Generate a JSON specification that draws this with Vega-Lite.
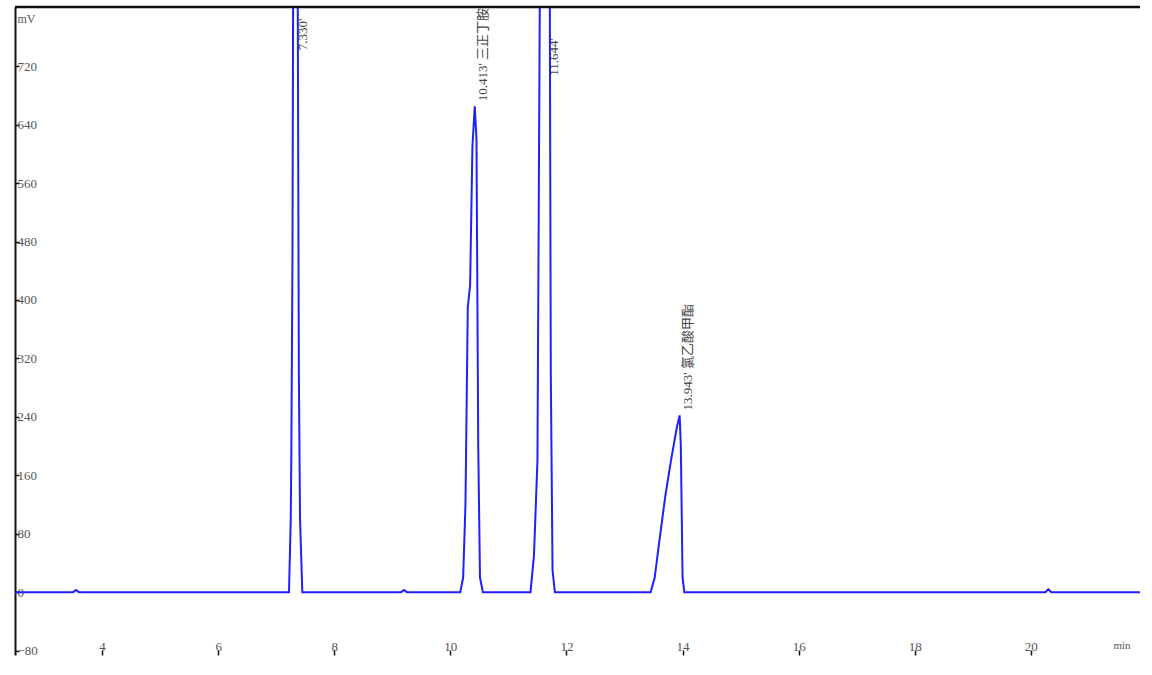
{
  "$schema": "https://vega.github.io/schema/vega-lite/v6.json",
  "autosize": {"type": "none"},
  "padding": {"left": 15, "top": 7, "right": 12, "bottom": 13},
  "width": 1125,
  "height": 648,
  "background": "white",
  "config": {
    "view": {"stroke": null},
    "axis": {"grid": false, "labelFont": "Liberation Serif", "titleFont": "Liberation Serif", "labelColor": "#555", "titleColor": "#555", "labelFontSize": 13, "titleFontSize": 13, "titleFontWeight": "normal", "tickColor": "#111"}
  },
  "datasets": {
    "trace": [
      {"t": 2.5, "mv": 0}, {"t": 3.5, "mv": 0}, {"t": 3.55, "mv": 3}, {"t": 3.6, "mv": 0},
      {"t": 7.22, "mv": 0}, {"t": 7.25, "mv": 100}, {"t": 7.26, "mv": 185}, {"t": 7.28, "mv": 460}, {"t": 7.3, "mv": 1100}, {"t": 7.33, "mv": 1600}, {"t": 7.36, "mv": 1100}, {"t": 7.39, "mv": 300}, {"t": 7.41, "mv": 100}, {"t": 7.45, "mv": 0},
      {"t": 9.15, "mv": 0}, {"t": 9.2, "mv": 3}, {"t": 9.25, "mv": 0},
      {"t": 10.17, "mv": 0}, {"t": 10.22, "mv": 20}, {"t": 10.26, "mv": 120}, {"t": 10.3, "mv": 390}, {"t": 10.34, "mv": 420}, {"t": 10.38, "mv": 610}, {"t": 10.42, "mv": 665}, {"t": 10.45, "mv": 620}, {"t": 10.48, "mv": 200}, {"t": 10.51, "mv": 20}, {"t": 10.56, "mv": 0},
      {"t": 11.38, "mv": 0}, {"t": 11.44, "mv": 50}, {"t": 11.5, "mv": 180}, {"t": 11.54, "mv": 800}, {"t": 11.6, "mv": 1500}, {"t": 11.65, "mv": 1800}, {"t": 11.7, "mv": 1200}, {"t": 11.73, "mv": 300}, {"t": 11.76, "mv": 30}, {"t": 11.8, "mv": 0},
      {"t": 13.45, "mv": 0}, {"t": 13.52, "mv": 20}, {"t": 13.6, "mv": 70}, {"t": 13.7, "mv": 130}, {"t": 13.8, "mv": 180}, {"t": 13.9, "mv": 225}, {"t": 13.95, "mv": 242}, {"t": 13.97, "mv": 200}, {"t": 14.0, "mv": 20}, {"t": 14.03, "mv": 0},
      {"t": 20.25, "mv": 0}, {"t": 20.3, "mv": 4}, {"t": 20.35, "mv": 0}, {"t": 21.88, "mv": 0}
    ],
    "peaks": [
      {"rt": 7.33, "height": 735, "label": "7.330'"},
      {"rt": 10.42, "height": 665, "label": "10.413'  三正丁胺"},
      {"rt": 11.65, "height": 700, "label": "11.644'"},
      {"rt": 13.95, "height": 242, "label": "13.943'  氯乙酸甲酯"}
    ],
    "frame": [{"t0": 2.5, "t1": 21.88, "top": 801}]
  },
  "layer": [
    {
      "data": {"name": "trace"},
      "mark": {"type": "line", "color": "#1f1fff", "strokeWidth": 2, "clip": true},
      "encoding": {
        "x": {"field": "t", "type": "quantitative", "scale": {"domain": [2.5, 21.88], "nice": false, "zero": false},
          "axis": {"orient": "bottom", "values": [4, 6, 8, 10, 12, 14, 16, 18, 20], "format": "d", "domain": false, "tickSize": -5, "tickWidth": 1.5, "labelPadding": -4, "labelBaseline": "middle", "title": "min", "titleAnchor": "start", "titleAlign": "left", "titleBaseline": "middle", "titleX": 1098, "titleY": -10, "titleFontSize": 11}},
        "y": {"field": "mv", "type": "quantitative", "scale": {"domain": [-86, 801], "nice": false, "zero": false},
          "axis": {"orient": "left", "values": [-80, 0, 80, 160, 240, 320, 400, 480, 560, 640, 720], "domainColor": "#111", "domainWidth": 2, "tickSize": -4, "tickWidth": 1.5, "labelAlign": "left", "labelBaseline": "middle", "labelPadding": 2, "title": "mV", "titleAngle": 0, "titleAlign": "left", "titleBaseline": "middle", "titleX": 2, "titleY": 11, "titleFontSize": 12}}
      }
    },
    {
      "data": {"name": "peaks"},
      "mark": {"type": "text", "angle": 270, "align": "left", "baseline": "middle", "dx": 5, "dy": 8, "font": "Liberation Serif, Noto Sans CJK SC", "fontSize": 13, "color": "#444", "clip": true},
      "encoding": {
        "x": {"field": "rt", "type": "quantitative"},
        "y": {"field": "height", "type": "quantitative"},
        "text": {"field": "label"}
      }
    },
    {
      "data": {"name": "frame"},
      "mark": {"type": "rule", "color": "#111", "strokeWidth": 2.5},
      "encoding": {
        "x": {"field": "t0", "type": "quantitative"},
        "x2": {"field": "t1"},
        "y": {"field": "top", "type": "quantitative"}
      }
    }
  ]
}
